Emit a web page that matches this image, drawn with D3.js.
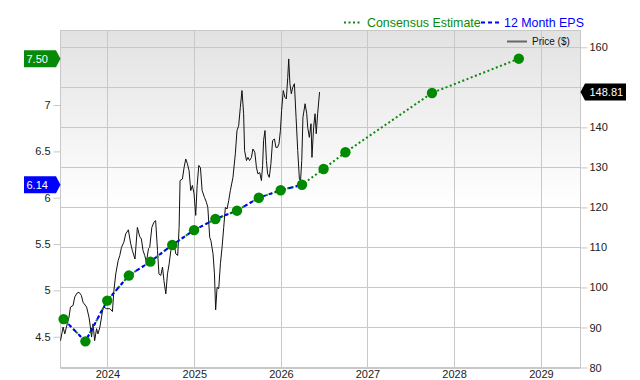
<!DOCTYPE html>
<html><head><meta charset="utf-8">
<script src="https://cdn.jsdelivr.net/npm/d3@7"></script>
<style>
html,body{margin:0;padding:0;background:#fff;}
svg{display:block;font-family:"Liberation Sans",Arial,sans-serif;}
</style></head>
<body>
<svg id="c" width="640" height="380"></svg>
<script>
// ---------- DATA ----------
const priceDates = ["2023-06-17","2023-06-28","2023-07-05","2023-07-12","2023-07-23","2023-07-29","2023-08-09","2023-08-16","2023-08-26","2023-09-03","2023-09-13","2023-09-20","2023-10-05","2023-10-15","2023-10-21","2023-10-26","2023-11-01","2023-11-08","2023-11-16","2023-11-22","2023-11-30","2023-12-07","2023-12-11","2023-12-16","2023-12-28","2024-01-11","2024-01-22","2024-01-28","2024-02-05","2024-02-15","2024-02-22","2024-02-29","2024-03-10","2024-03-18","2024-03-29","2024-04-08","2024-04-15","2024-04-26","2024-05-06","2024-05-16","2024-05-23","2024-05-30","2024-06-06","2024-06-13","2024-06-22","2024-06-27","2024-07-06","2024-07-15","2024-07-22","2024-07-30","2024-08-05","2024-08-13","2024-08-20","2024-08-26","2024-09-03","2024-09-10","2024-09-17","2024-09-24","2024-10-08","2024-10-15","2024-10-23","2024-10-29","2024-11-02","2024-11-12","2024-11-19","2024-11-26","2024-12-03","2024-12-10","2024-12-17","2024-12-24","2024-12-31","2025-01-07","2025-01-13","2025-01-20","2025-01-27","2025-02-03","2025-02-13","2025-02-21","2025-02-27","2025-03-07","2025-03-12","2025-03-21","2025-03-27","2025-04-01","2025-04-07","2025-04-14","2025-04-21","2025-04-28","2025-05-05","2025-05-12","2025-05-19","2025-05-26","2025-06-02","2025-06-13","2025-06-23","2025-06-30","2025-07-07","2025-07-14","2025-07-21","2025-07-28","2025-08-01","2025-08-09","2025-08-15","2025-08-22","2025-08-30","2025-09-05","2025-09-13","2025-09-20","2025-09-26","2025-10-04","2025-10-11","2025-10-16","2025-10-20","2025-10-26","2025-11-01","2025-11-06","2025-11-13","2025-11-20","2025-11-27","2025-12-05","2025-12-11","2025-12-18","2025-12-24","2025-12-30","2026-01-04","2026-01-11","2026-01-18","2026-01-24","2026-01-30","2026-02-03","2026-02-08","2026-02-14","2026-02-20","2026-02-27","2026-03-06","2026-03-13","2026-03-20","2026-03-25","2026-03-30","2026-04-04","2026-04-13","2026-04-20","2026-04-24","2026-05-01","2026-05-08","2026-05-12","2026-05-19","2026-05-25","2026-05-30","2026-06-05","2026-06-13"];
const priceValues = [86.7,90.1,88.4,90.1,92.6,95.1,95.5,97.6,98.6,98.8,98.0,96.3,95.1,92.6,90.1,87.6,90.9,86.7,89.7,88.4,90.1,92.6,94.2,95.1,94.7,94.7,94.0,99.2,103.4,106.7,108.0,110.0,111.3,113.4,114.4,110.9,109.2,107.1,115.0,112.7,112.1,109.2,108.0,106.3,109.7,110.0,115.0,116.3,116.7,109.2,103.4,103.0,105.1,101.7,98.4,103.4,105.9,109.2,110.9,108.4,108.0,115.0,126.7,127.1,130.0,132.1,130.9,129.2,124.2,125.5,123.4,118.0,125.5,130.5,129.9,124.2,122.5,121.3,120.0,112.5,111.7,108.4,103.4,94.4,100.0,99.7,105.9,110.0,115.0,120.0,119.6,121.7,124.2,127.5,133.4,139.2,140.4,145.0,149.2,143.4,134.2,131.7,132.5,131.7,132.5,134.6,133.8,130.0,128.4,128.7,126.7,130.5,136.7,139.2,131.7,128.4,127.5,130.9,136.7,137.1,135.0,135.0,135.9,139.2,144.2,149.2,147.5,147.1,152.5,157.1,150.9,148.4,150.0,150.9,142.5,134.2,127.1,126.7,131.7,142.5,145.9,143.4,140.0,137.5,140.9,132.5,140.0,143.4,138.4,143.4,148.81];

const epsDates = ["2023-06-30","2023-09-30","2023-12-31","2024-03-31","2024-06-30","2024-09-30","2024-12-31","2025-03-31","2025-06-30","2025-09-30","2025-12-31","2026-03-31"];
const epsValues = [4.69,4.45,4.89,5.16,5.31,5.49,5.65,5.77,5.86,6.00,6.08,6.14];

const estDates = ["2026-03-31","2026-06-30","2026-09-30","2027-09-30","2028-09-30"];
const estValues = [6.14,6.31,6.49,7.13,7.50];

const yearTicks = ["2024","2025","2026","2027","2028","2029"];
const epsTicks = [4.5,5,5.5,6,6.5,7,7.5];
const priceTicks = [80,90,100,110,120,130,140,150,160];
const lastPrice = 148.81;
const lastEps = 6.14;
const lastEst = 7.50;

// ---------- SCALES ----------
const parse = d3.timeParse("%Y-%m-%d");
const L = 60.5, R = 580.5, T = 30.5, B = 367.5;
const x = d3.scaleTime().domain([parse("2023-06-17"), parse("2029-06-17")]).range([L, R]);
const yP = d3.scaleLinear().domain([80, 164.2]).range([B, T]);
const yE = d3.scaleLinear().domain([4.168, 7.804]).range([B, T]);

const svg = d3.select("#c");
const defs = svg.append("defs");
const grad = defs.append("linearGradient").attr("id","bg").attr("x1",0).attr("y1",0).attr("x2",0).attr("y2",1);
grad.append("stop").attr("offset","0%").attr("stop-color","#e2e2e2");
grad.append("stop").attr("offset","52%").attr("stop-color","#ffffff");
grad.append("stop").attr("offset","100%").attr("stop-color","#ffffff");

svg.append("rect").attr("x",L).attr("y",T).attr("width",R-L).attr("height",B-T).attr("fill","url(#bg)");

const gridColor = "#c8c8c8";
svg.append("g").selectAll("line").data(priceTicks).join("line")
  .attr("x1",L).attr("x2",R).attr("y1",d=>Math.round(yP(d))+0.5).attr("y2",d=>Math.round(yP(d))+0.5)
  .attr("stroke",gridColor).attr("stroke-width",1);
svg.append("g").selectAll("line").data(yearTicks).join("line")
  .attr("x1",d=>Math.round(x(parse(d+"-01-01")))+0.5).attr("x2",d=>Math.round(x(parse(d+"-01-01")))+0.5)
  .attr("y1",T).attr("y2",B).attr("stroke",gridColor).attr("stroke-width",1);
svg.append("rect").attr("x",L).attr("y",T).attr("width",R-L).attr("height",B-T)
  .attr("fill","none").attr("stroke",gridColor).attr("stroke-width",1);

// ---------- AXES ----------
const axisFont = 11;
// labels hidden behind the value badges in the reference
const hiddenEps = [lastEst];
const hiddenPrice = [150];
const gl = svg.append("g").attr("transform",`translate(${L},0)`)
  .call(d3.axisLeft(yE).tickValues(epsTicks).tickSize(7).tickPadding(3)
    .tickFormat(d=>hiddenEps.includes(d) ? "" : String(d)));
const gr = svg.append("g").attr("transform",`translate(${R},0)`)
  .call(d3.axisRight(yP).tickValues(priceTicks).tickSize(7).tickPadding(2)
    .tickFormat(d=>hiddenPrice.includes(d) ? "" : String(d)));
const gb = svg.append("g").attr("transform",`translate(0,${B})`)
  .call(d3.axisBottom(x).tickValues(yearTicks.map(d=>parse(d+"-01-01"))).tickSize(0).tickPadding(0).tickFormat(d3.timeFormat("%Y")));
[gl,gr,gb].forEach(g=>{
  g.select(".domain").remove();
  g.selectAll(".tick line").attr("stroke",gridColor);
  g.selectAll(".tick text").attr("fill","#222").style("font-size",axisFont+"px").style("font-family",'"Liberation Sans",Arial,sans-serif');
});
gb.selectAll(".tick text").attr("y",10).attr("dy","0");

// ---------- SERIES ----------
const priceData = priceDates.map((d,i)=>({d:parse(d),v:priceValues[i]}));
const epsData = epsDates.map((d,i)=>({d:parse(d),v:epsValues[i]}));
const estData = estDates.map((d,i)=>({d:parse(d),v:estValues[i]}));
const allEps = epsData.concat(estData.slice(1));

svg.append("path").datum(priceData)
  .attr("d",d3.line().x(d=>x(d.d)).y(d=>yP(d.v)))
  .attr("fill","none").attr("stroke","#111").attr("stroke-width",1);

const lineE = d3.line().x(d=>x(d.d)).y(d=>yE(d.v));
svg.append("path").datum(allEps).attr("d",lineE)
  .attr("fill","none").attr("stroke","#0a8a0a").attr("stroke-width",2).attr("stroke-dasharray","2,2.5");
svg.append("path").datum(epsData).attr("d",lineE)
  .attr("fill","none").attr("stroke","#0000ff").attr("stroke-width",2).attr("stroke-dasharray","4,3");

svg.append("g").selectAll("circle").data(allEps).join("circle")
  .attr("cx",d=>x(d.d)).attr("cy",d=>yE(d.v)).attr("r",5.2).attr("fill","#008a00");

// ---------- BADGES ----------
function leftBadge(val, color){
  const cy = yE(val);
  const g = svg.append("g");
  g.append("path").attr("d",`M24,${cy-8.5} L56,${cy-8.5} L60.5,${cy} L56,${cy+8.5} L24,${cy+8.5} Z`).attr("fill",color);
  g.append("text").attr("x",26.5).attr("y",cy).attr("dy","0.36em").attr("fill","#fff")
    .style("font-size","11px").text(val.toFixed(2));
}
leftBadge(lastEst, "#078a07");
leftBadge(lastEps, "#0000ff");
{
  const cy = yP(lastPrice);
  const g = svg.append("g");
  g.append("path").attr("d",`M${R},${cy} L585,${cy-8.5} L626,${cy-8.5} L626,${cy+8.5} L585,${cy+8.5} Z`).attr("fill","#000");
  g.append("text").attr("x",589.5).attr("y",cy).attr("dy","0.36em").attr("fill","#fff")
    .style("font-size","11px").text(lastPrice.toFixed(2));
}

// ---------- LEGEND ----------
const lg = svg.append("g");
lg.append("line").attr("x1",344).attr("x2",362).attr("y1",22.5).attr("y2",22.5)
  .attr("stroke","#0a8a0a").attr("stroke-width",2).attr("stroke-dasharray","2,2.5");
lg.append("text").attr("x",367).attr("y",22.5).attr("dy","0.36em").attr("fill","#0a8a0a")
  .style("font-size","12.4px").text("Consensus Estimate");
lg.append("line").attr("x1",481).attr("x2",501).attr("y1",22.5).attr("y2",22.5)
  .attr("stroke","#0000ff").attr("stroke-width",2).attr("stroke-dasharray","4,3");
lg.append("text").attr("x",504).attr("y",22.5).attr("dy","0.36em").attr("fill","#0000ff")
  .style("font-size","12.4px").text("12 Month EPS");
lg.append("line").attr("x1",507).attr("x2",527).attr("y1",41.5).attr("y2",41.5)
  .attr("stroke","#666").attr("stroke-width",2);
lg.append("text").attr("x",532).attr("y",41.5).attr("dy","0.36em").attr("fill","#111")
  .style("font-size","10px").text("Price ($)");
</script>
</body></html>
